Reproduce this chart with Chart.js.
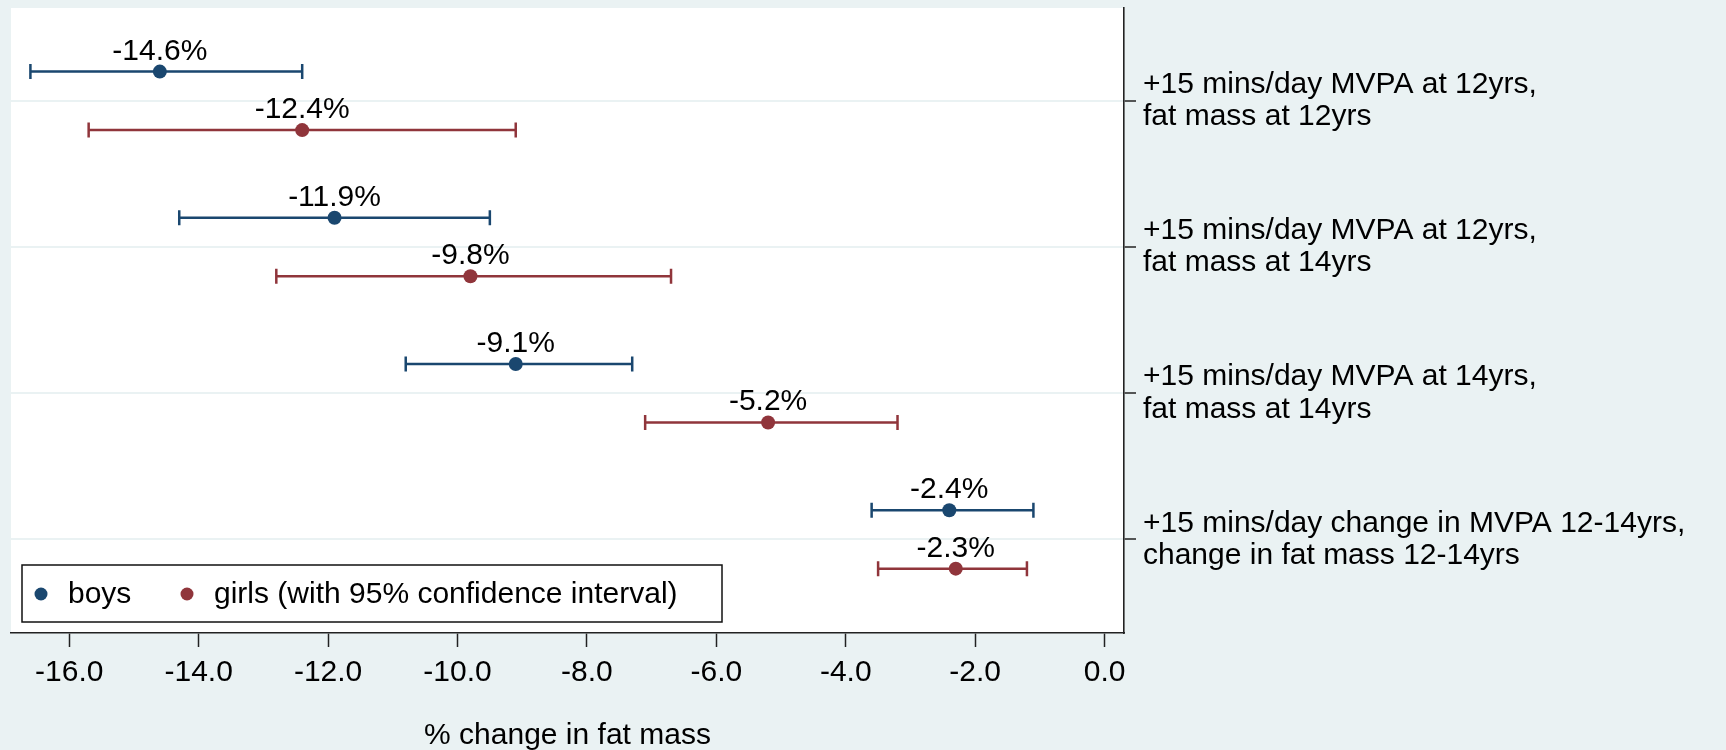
<!DOCTYPE html>
<html>
<head>
<meta charset="utf-8">
<script src="https://cdn.jsdelivr.net/npm/chart.js@4.4.1/dist/chart.umd.min.js"></script>
<style>
    html, body { margin: 0; padding: 0; background: #eaf2f3; }
    #wrap { width: 1726px; height: 750px; }
</style>
</head>
<body>
<div id="wrap"><canvas id="fatChart"></canvas></div>
<script>
// data
const categories = [
    ["+15 mins/day MVPA at 12yrs,", "fat mass at 12yrs"],
    ["+15 mins/day MVPA at 12yrs,", "fat mass at 14yrs"],
    ["+15 mins/day MVPA at 14yrs,", "fat mass at 14yrs"],
    ["+15 mins/day change in MVPA 12-14yrs,", "change in fat mass 12-14yrs"]
];
const boysEst = [-14.6, -11.9, -9.1, -2.4];
const boysLow = [-16.6, -14.3, -10.8, -3.6];
const boysHigh = [-12.4, -9.5, -7.3, -1.1];
const girlsEst = [-12.4, -9.8, -5.2, -2.3];
const girlsLow = [-15.7, -12.8, -7.1, -3.5];
const girlsHigh = [-9.1, -6.7, -3.2, -1.2];
const xTicks = [-16, -14, -12, -10, -8, -6, -4, -2, 0];
const legendLabels = ["boys", "girls (with 95% confidence interval)"];

const NAVY = '#1a476f';
const MAROON = '#90353b';
const BG = '#eaf2f3';
const FONT = "'Liberation Sans', Arial, sans-serif";

// rows: boys sit a bit above the category line, girls a bit below
function rows(values, shift) {
    return values.map((v, i) => ({ x: v, y: i + 1 + shift }));
}

const plotBackground = {
    id: 'plotBackground',
    beforeDraw(chart) {
        const { ctx, chartArea: a } = chart;
        ctx.save();
        ctx.fillStyle = '#ffffff';
        ctx.fillRect(a.left, a.top, a.right - a.left, a.bottom - a.top);
        ctx.restore();
    }
};

const errorBars = {
    id: 'errorBars',
    beforeDatasetsDraw(chart) {
        const { ctx, scales: { x, y } } = chart;
        chart.data.datasets.forEach(ds => {
            ctx.save();
            ctx.strokeStyle = ds.backgroundColor;
            ctx.lineWidth = 2.5;
            ds.data.forEach((p, j) => {
                const py = y.getPixelForValue(p.y);
                const x1 = x.getPixelForValue(ds.low[j]);
                const x2 = x.getPixelForValue(ds.high[j]);
                ctx.beginPath();
                ctx.moveTo(x1, py); ctx.lineTo(x2, py);
                ctx.moveTo(x1, py - 7.5); ctx.lineTo(x1, py + 7.5);
                ctx.moveTo(x2, py - 7.5); ctx.lineTo(x2, py + 7.5);
                ctx.stroke();
            });
            ctx.restore();
        });
    },
    afterDatasetsDraw(chart) {
        const { ctx, scales: { x, y } } = chart;
        ctx.save();
        ctx.font = '30px ' + FONT;
        ctx.fillStyle = '#000';
        ctx.textAlign = 'center';
        ctx.textBaseline = 'alphabetic';
        chart.data.datasets.forEach(ds => {
            ds.data.forEach(p => {
                ctx.fillText(p.x.toFixed(1) + '%', x.getPixelForValue(p.x), y.getPixelForValue(p.y) - 12);
            });
        });
        ctx.restore();
    }
};

const boxLegend = {
    id: 'boxLegend',
    afterDraw(chart) {
        const ctx = chart.ctx;
        const items = chart.data.datasets;
        ctx.save();
        ctx.fillStyle = '#ffffff';
        ctx.fillRect(22, 565, 700, 57);
        ctx.strokeStyle = '#111';
        ctx.lineWidth = 1.5;
        ctx.strokeRect(22, 565, 700, 57);
        ctx.font = '30px ' + FONT;
        ctx.textBaseline = 'middle';
        ctx.textAlign = 'left';
        const dotX = [41, 187];
        items.forEach((ds, i) => {
            ctx.fillStyle = ds.backgroundColor;
            ctx.beginPath();
            ctx.arc(dotX[i], 594, 6.5, 0, Math.PI * 2);
            ctx.fill();
            ctx.fillStyle = '#000';
            ctx.fillText(legendLabels[i], dotX[i] + 27, 595);
        });
        ctx.restore();
    }
};

new Chart(document.getElementById('fatChart'), {
    type: 'scatter',
    data: {
        datasets: [{
            label: legendLabels[0],
            data: rows(boysEst, -0.2),
            low: boysLow,
            high: boysHigh,
            backgroundColor: NAVY,
            borderColor: NAVY,
            pointRadius: 7,
            borderWidth: 0
        }, {
            label: legendLabels[1],
            data: rows(girlsEst, 0.2),
            low: girlsLow,
            high: girlsHigh,
            backgroundColor: MAROON,
            borderColor: MAROON,
            pointRadius: 7,
            borderWidth: 0
        }]
    },
    options: {
        responsive: true,
        maintainAspectRatio: false,
        animation: false,
        events: [],
        layout: { padding: { left: 11, top: 8, right: 0, bottom: 0 } },
        plugins: {
            legend: { display: false },
            tooltip: { enabled: false }
        },
        scales: {
            x: {
                type: 'linear',
                position: 'bottom',
                min: -16.9,
                max: 0.3,
                afterBuildTicks: s => { s.ticks = xTicks.map(v => ({ value: v })); },
                afterFit: s => { s.height = 117; s.paddingLeft = 0; s.paddingRight = 0; },
                ticks: {
                    autoSkip: false,
                    maxRotation: 0,
                    padding: 8,
                    color: '#000',
                    font: { family: FONT, size: 30 },
                    callback: v => v.toFixed(1)
                },
                grid: {
                    drawOnChartArea: false,
                    drawTicks: true,
                    tickLength: 14,
                    tickColor: '#222',
                    tickWidth: 1.5
                },
                border: { display: true, color: '#222', width: 1.6 },
                title: {
                    display: true,
                    text: '% change in fat mass',
                    color: '#000',
                    font: { family: FONT, size: 30, lineHeight: 0.8 },
                    padding: { top: 0, bottom: 2 }
                }
            },
            y: {
                type: 'linear',
                position: 'right',
                reverse: true,
                min: 0.365,
                max: 4.64,
                afterBuildTicks: s => { s.ticks = categories.map((c, i) => ({ value: i + 1 })); },
                afterFit: s => { s.width = 602; s.paddingTop = 0; s.paddingBottom = 0; },
                ticks: {
                    padding: 7,
                    color: '#000',
                    font: { family: FONT, size: 30, lineHeight: 1.07 },
                    callback: v => categories[v - 1]
                },
                grid: {
                    color: BG,
                    lineWidth: 2,
                    drawTicks: true,
                    tickLength: 12,
                    tickColor: '#222',
                    tickWidth: 1.5
                },
                border: { display: true, color: '#222', width: 1.6 }
            }
        }
    },
    plugins: [plotBackground, errorBars, boxLegend]
});
</script>
</body>
</html>
